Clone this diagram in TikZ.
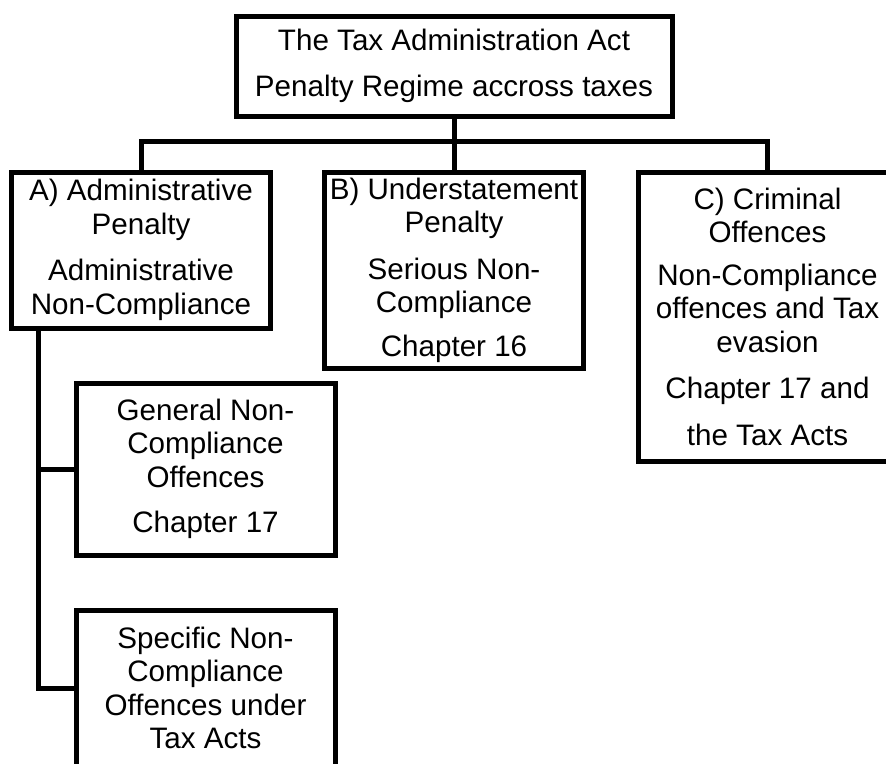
\documentclass[tikz,border=0pt]{standalone}
\usepackage{fontspec}
\setmainfont{Liberation Sans}
\tikzset{
  box/.style={draw=black, line width=5pt, fill=white, inner sep=0pt, align=center,
    minimum width=259pt, font=\fontsize{29.6}{33.5}\selectfont},
  link/.style={draw=black, line width=5pt, line join=miter}
}
\begin{document}
\begin{tikzpicture}[x=1pt, y=-1pt]
\useasboundingbox (0,0) rectangle (886,763);
\node[box, minimum width=436pt, minimum height=100pt] (top) at (454,66)
  {The Tax Administration Act\\[12.5pt]Penalty Regime accross taxes};
\node[box, minimum height=156pt] (A) at (141,250)
  {A) Administrative\\Penalty\\[13pt]Administrative\\Non-Compliance};
\node[box, minimum height=196pt] (B) at (454,270)
  {B) Understatement\\Penalty\\[13pt]Serious Non-\\Compliance\\[10pt]Chapter 16};
\node[box, minimum height=289pt] (C) at (767.5,316.5)
  {C) Criminal\\Offences\\[9pt]Non-Compliance\\offences and Tax\\evasion\\[13pt]Chapter 17 and\\[13pt]the Tax Acts};
\node[box, minimum height=172pt] (G) at (205.5,469)
  {General Non-\\Compliance\\Offences\\[12pt]Chapter 17};
\node[box, minimum height=156pt] (S) at (205.5,688)
  {Specific Non-\\Compliance\\Offences under\\Tax Acts};
\draw[link] (top.south) -- (B.north);
\draw[link] (A.north) -- ++(0,-28) -| (C.north);
\draw[link] ([xshift=-103pt]A.south) |- (G.west);
\draw[link] ([xshift=-103pt]A.south) |- (S.west);
\end{tikzpicture}
\end{document}
